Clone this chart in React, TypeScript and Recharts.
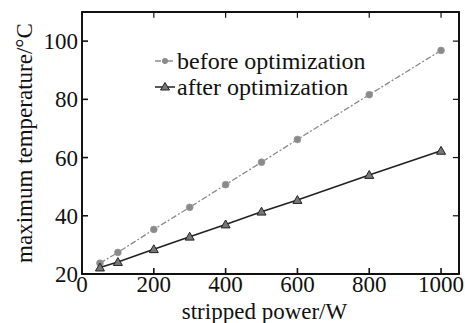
import React from 'react';
import {
  LineChart,
  Line,
  XAxis,
  YAxis,
  ReferenceLine,
  ReferenceArea,
} from 'recharts';

// stripped power (W)
const POWER = [50, 100, 200, 300, 400, 500, 600, 800, 1000];
// maximum temperature (°C)
const BEFORE = [23.7, 27.4, 35.3, 42.9, 50.7, 58.4, 66.2, 81.6, 96.8];
const AFTER = [22.2, 24.1, 28.5, 32.8, 37.0, 41.4, 45.4, 54.0, 62.3];

const X_TICKS = [0, 200, 400, 600, 800, 1000];
const Y_TICKS = [20, 40, 60, 80, 100];
const X_MAX = 1050;
const Y_MIN = 20;
const Y_MAX = 110;

const SERIES = [
  { key: 'before', name: 'before optimization', color: '#8a8a8a', dash: '6 2 2 2', marker: 'circle' },
  { key: 'after', name: 'after optimization', color: '#222222', dash: undefined, marker: 'triangle' },
];

const FONT = '"Liberation Serif", "Times New Roman", serif';
const INK = '#111';

const data = POWER.map((p, i) => ({ power: p, before: BEFORE[i], after: AFTER[i] }));

const Triangle = (props: any) => {
  const { cx, cy } = props;
  if (cx == null || cy == null) return null;
  const s = 4.5;
  return (
    <path
      d={`M${cx},${cy - s} L${cx + s},${cy + s * 0.75} L${cx - s},${cy + s * 0.75} Z`}
      fill="#777"
      stroke="#222"
      strokeWidth={1}
    />
  );
};

const Dot = (props: any) => {
  const { cx, cy } = props;
  if (cx == null || cy == null) return null;
  return <circle cx={cx} cy={cy} r={3.4} fill="#8a8a8a" stroke="#999" strokeWidth={0.8} />;
};

// y-axis title, rotated and centred on the plot height
const YTitle = (props: any) => {
  const { viewBox } = props;
  const cx = viewBox.x + 24;
  const cy = viewBox.y + viewBox.height / 2;
  return (
    <text
      x={cx}
      y={cy}
      transform={`rotate(-90, ${cx}, ${cy})`}
      textAnchor="middle"
      dominantBaseline="central"
      fill={INK}
      fontSize={23}
      fontFamily={FONT}
    >
      maximum temperature/°C
    </text>
  );
};

const LegendBox = () => (
  <div
    style={{
      position: 'absolute',
      left: 155,
      top: 48,
      fontFamily: FONT,
      fontSize: 24,
      lineHeight: '26px',
      color: INK,
    }}
  >
    {SERIES.map((s) => (
      <div key={s.key} style={{ display: 'flex', alignItems: 'center' }}>
        <svg width={20} height={14} style={{ marginRight: 2 }}>
          <line x1={0} y1={7} x2={20} y2={7} stroke={s.color} strokeWidth={1.5} strokeDasharray={s.dash} />
          {s.marker === 'circle' ? (
            <circle cx={10} cy={7} r={3} fill={s.color} />
          ) : (
            <path d="M10,2.5 L14.5,10 L5.5,10 Z" fill="#777" stroke="#222" strokeWidth={1} />
          )}
        </svg>
        <span>{s.name}</span>
      </div>
    ))}
  </div>
);

export default function App() {
  return (
    <div style={{ position: 'absolute', left: 0, top: 0, width: 465, height: 323, background: '#fff' }}>
      <LineChart
        width={465}
        height={323}
        data={data}
        margin={{ top: 11, right: 5, bottom: 0, left: 0 }}
      >
        <XAxis
          dataKey="power"
          type="number"
          domain={[0, X_MAX]}
          ticks={X_TICKS}
          height={49}
          tickSize={-6}
          tickMargin={8}
          stroke={INK}
          strokeWidth={1.6}
          tick={{ fill: INK, fontSize: 23, fontFamily: FONT }}
          label={{
            value: 'stripped power/W',
            position: 'insideBottom',
            offset: 4,
            dx: -6,
            style: { fill: INK, fontSize: 23, fontFamily: FONT },
          }}
        />
        {/* top frame */}
        <XAxis
          xAxisId="top"
          dataKey="power"
          type="number"
          orientation="top"
          domain={[0, X_MAX]}
          height={1}
          tick={false}
          stroke={INK}
          strokeWidth={1.8}
        />
        <YAxis
          type="number"
          domain={[Y_MIN, Y_MAX]}
          ticks={Y_TICKS}
          width={82}
          tickSize={-6}
          tickMargin={10}
          stroke={INK}
          strokeWidth={1.6}
          tick={{ fill: INK, fontSize: 23, fontFamily: FONT }}
          label={<YTitle />}
        />
        {/* right frame */}
        <YAxis
          yAxisId="right"
          orientation="right"
          type="number"
          domain={[Y_MIN, Y_MAX]}
          width={1}
          tick={false}
          stroke={INK}
          strokeWidth={1.8}
        />
        <ReferenceArea
          x1={0}
          x2={X_MAX}
          y1={Y_MIN}
          y2={Y_MAX}
          fill="none"
          fillOpacity={0}
          stroke={INK}
          strokeWidth={1.8}
          strokeOpacity={1}
          ifOverflow="visible"
        />
        {X_TICKS.map((t) => (
          <ReferenceLine
            key={`tx${t}`}
            segment={[{ x: t, y: Y_MAX }, { x: t, y: Y_MAX - 2 }]}
            stroke={INK}
            strokeWidth={1.2}
            ifOverflow="visible"
          />
        ))}
        {Y_TICKS.map((t) => (
          <ReferenceLine
            key={`ty${t}`}
            segment={[{ x: X_MAX, y: t }, { x: X_MAX - 17, y: t }]}
            stroke={INK}
            strokeWidth={1.2}
            ifOverflow="visible"
          />
        ))}
        <Line
          dataKey="before"
          name="before optimization"
          stroke={SERIES[0].color}
          strokeWidth={1.3}
          strokeDasharray={SERIES[0].dash}
          dot={<Dot />}
          isAnimationActive={false}
        />
        <Line
          dataKey="after"
          name="after optimization"
          stroke={SERIES[1].color}
          strokeWidth={1.6}
          dot={<Triangle />}
          isAnimationActive={false}
        />
      </LineChart>
      <LegendBox />
    </div>
  );
}
